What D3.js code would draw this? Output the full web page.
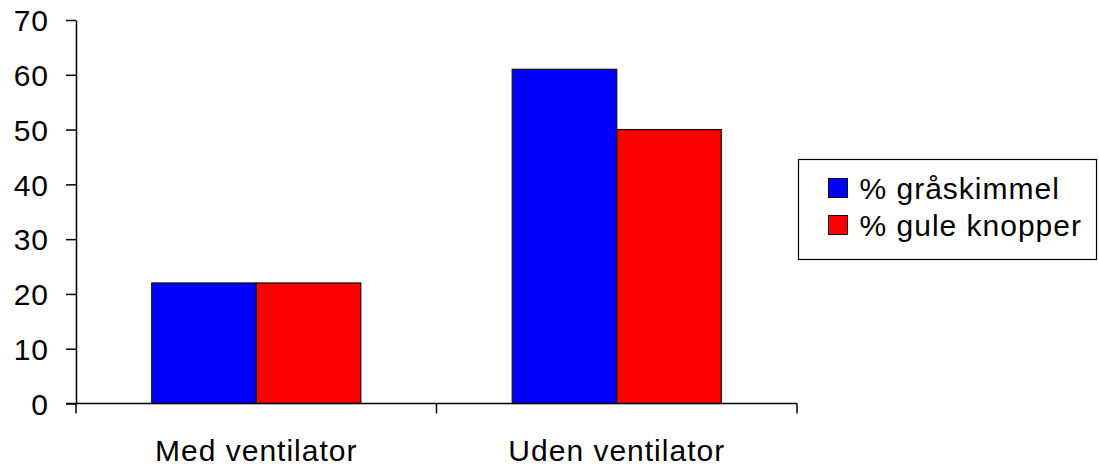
<!DOCTYPE html>
<html>
<head>
<meta charset="utf-8">
<script src="https://cdn.jsdelivr.net/npm/d3@7"></script>
<style>
  body { margin: 0; background: #fff; }
  svg text { font-family: "Liberation Sans", Arial, sans-serif; fill: #000; }
</style>
</head>
<body>
<div id="chart"></div>
<script>
var categories = ["Med ventilator", "Uden ventilator"];
var series = ["% gråskimmel", "% gule knopper"];
var graaskimmel = [22, 61];
var guleKnopper = [22, 50];
var yTicks = [0, 10, 20, 30, 40, 50, 60, 70];
var colors = ["#0000ff", "#ff0000"];

var width = 1099, height = 468;
var svg = d3.select("#chart").append("svg")
  .attr("width", width).attr("height", height);

var values = [graaskimmel, guleKnopper];

// x scales: one band per category, bars grouped inside
var x0 = d3.scaleBand().domain(categories).range([76, 797]);
var pad = x0.bandwidth() * 0.21;
var x1 = d3.scaleBand().domain(series).range([pad, x0.bandwidth() - pad]);
var y = d3.scaleLinear().domain([0, 70]).range([403.5, 20]);

// bars
var groups = svg.selectAll("g.cat")
  .data(categories)
  .enter().append("g")
    .attr("class", "cat")
    .attr("transform", function(d){ return "translate(" + x0(d) + ",0)"; });

groups.selectAll("rect")
  .data(function(d, i){ return series.map(function(s, j){ return {s: s, v: values[j][i], j: j}; }); })
  .enter().append("rect")
    .attr("x", function(d){ return x1(d.s); })
    .attr("y", function(d){ return y(d.v); })
    .attr("width", x1.bandwidth())
    .attr("height", function(d){ return y(0) - y(d.v); })
    .attr("fill", function(d){ return colors[d.j]; })
    .attr("stroke", "#111")
    .attr("stroke-width", 1.2);

// y axis
var yAxis = svg.append("g")
  .attr("transform", "translate(76,0)")
  .call(d3.axisLeft(y).tickValues(yTicks).tickSize(10).tickSizeOuter(0).tickPadding(17));
yAxis.selectAll("text").style("font-size", "30px").style("letter-spacing", "1px").attr("dy", "0.36em");

// x axis
var xAxis = svg.append("g")
  .attr("transform", "translate(0," + y(0) + ")")
  .call(d3.axisBottom(x0).tickSize(0).tickSizeOuter(0).tickPadding(57.5));
xAxis.selectAll("text").style("font-size", "30px").style("letter-spacing", "1px").attr("dy", "0");
xAxis.select(".domain").attr("d", "M66,0H797");

// category boundary ticks
var edges = [x0.range()[0]].concat(categories.map(function(c){ return x0(c) + x0.bandwidth(); }));
xAxis.selectAll("line.edge")
  .data(edges)
  .enter().append("line")
    .attr("class", "edge")
    .attr("x1", function(d){ return d; })
    .attr("x2", function(d){ return d; })
    .attr("y1", 0).attr("y2", 10)
    .attr("stroke", "#000").attr("stroke-width", 1.5);

svg.selectAll(".domain, .tick line").attr("stroke", "#000").attr("stroke-width", 1.5);

// legend
var legend = svg.append("g").attr("transform", "translate(798.5,159.5)");
legend.append("rect")
  .attr("width", 298).attr("height", 100)
  .attr("fill", "#fff").attr("stroke", "#000").attr("stroke-width", 1.2);

var items = legend.selectAll("g.item")
  .data(series)
  .enter().append("g")
    .attr("class", "item")
    .attr("transform", function(d, i){ return "translate(0," + (28.5 + i * 37) + ")"; });
items.append("rect")
  .attr("x", 30).attr("y", -9.5)
  .attr("width", 19).attr("height", 19)
  .attr("fill", function(d, i){ return colors[i]; })
  .attr("stroke", "#111").attr("stroke-width", 1);
items.append("text")
  .attr("x", 61).attr("dy", "0.36em")
  .style("font-size", "30px").style("letter-spacing", "1px")
  .text(function(d){ return d; });
</script>
</body>
</html>
